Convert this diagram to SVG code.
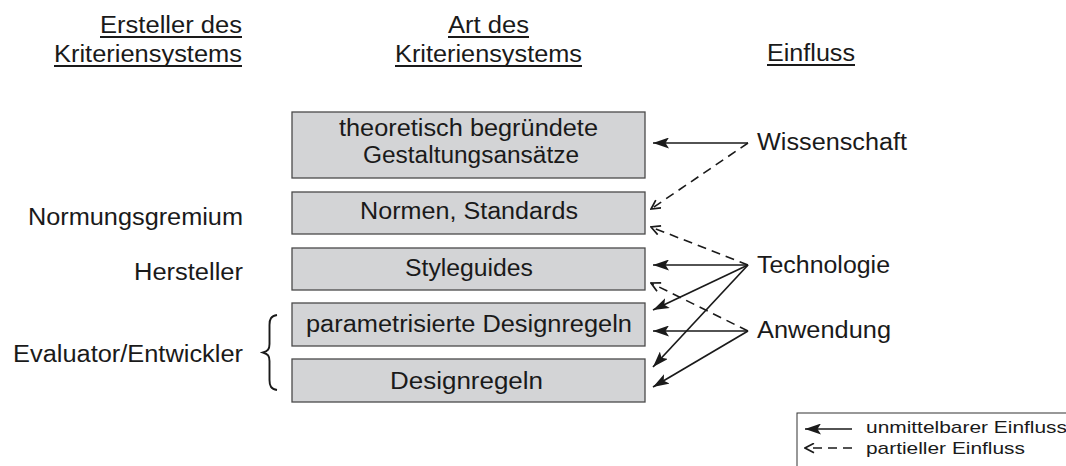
<svg xmlns="http://www.w3.org/2000/svg" width="1066" height="466" viewBox="0 0 1066 466">
  <style>
    text { font-family: "Liberation Sans", Arial, Helvetica, sans-serif; font-size: 23.5px; fill: #1a1a1a; }
    .legend { font-size: 17px; }
    .box { fill: #d3d4d6; stroke: #4a4a4a; stroke-width: 1.3; }
    .ul { stroke: #1a1a1a; stroke-width: 2; }
    .solid { fill: none; stroke: #1a1a1a; stroke-width: 1.7; marker-end: url(#head); }
    .dashed { fill: none; stroke: #1a1a1a; stroke-width: 1.6; stroke-dasharray: 9 6; marker-end: url(#openhead); }
  </style>
  <defs>
    <marker id="head" viewBox="0 0 16 11" refX="16" refY="5.5" markerWidth="16" markerHeight="11" markerUnits="userSpaceOnUse" orient="auto">
      <path d="M0,0 L16,5.5 L0,11 L3.5,5.5 Z" fill="#1a1a1a"/>
    </marker>
    <marker id="openhead" viewBox="0 0 11 11" refX="10" refY="5.5" markerWidth="11" markerHeight="11" markerUnits="userSpaceOnUse" orient="auto">
      <path d="M1,0.8 L10,5.5 L1,10.2" fill="none" stroke="#1a1a1a" stroke-width="1.7"/>
    </marker>
  </defs>
  <rect width="1066" height="466" fill="#ffffff"/>

  <!-- column headings -->
  <g id="heading-ersteller">
    <text x="100" y="33" textLength="142" lengthAdjust="spacingAndGlyphs">Ersteller des</text>
    <line class="ul" x1="100" y1="37" x2="242" y2="37"/>
    <text x="54" y="62" textLength="188" lengthAdjust="spacingAndGlyphs">Kriteriensystems</text>
    <line class="ul" x1="54" y1="66" x2="242" y2="66"/>
  </g>
  <g id="heading-art">
    <text x="448" y="33" textLength="81" lengthAdjust="spacingAndGlyphs">Art des</text>
    <line class="ul" x1="448" y1="37" x2="529" y2="37"/>
    <text x="395" y="62" textLength="187" lengthAdjust="spacingAndGlyphs">Kriteriensystems</text>
    <line class="ul" x1="395" y1="66" x2="582" y2="66"/>
  </g>
  <g id="heading-einfluss">
    <text x="767" y="61" textLength="88" lengthAdjust="spacingAndGlyphs">Einfluss</text>
    <line class="ul" x1="767" y1="65" x2="855" y2="65"/>
  </g>

  <!-- criteria systems -->
  <g id="node-gestaltungsansaetze">
    <rect class="box" x="292" y="112" width="353" height="66"/>
    <text x="339" y="136" textLength="259" lengthAdjust="spacingAndGlyphs">theoretisch begründete</text>
    <text x="363" y="163" textLength="216" lengthAdjust="spacingAndGlyphs">Gestaltungsansätze</text>
  </g>
  <g id="node-normen">
    <rect class="box" x="292" y="192" width="353" height="42"/>
    <text x="360" y="219" textLength="218" lengthAdjust="spacingAndGlyphs">Normen, Standards</text>
  </g>
  <g id="node-styleguides">
    <rect class="box" x="292" y="248" width="353" height="42"/>
    <text x="405" y="276" textLength="128" lengthAdjust="spacingAndGlyphs">Styleguides</text>
  </g>
  <g id="node-param-designregeln">
    <rect class="box" x="292" y="303" width="353" height="43"/>
    <text x="306" y="332" textLength="326" lengthAdjust="spacingAndGlyphs">parametrisierte Designregeln</text>
  </g>
  <g id="node-designregeln">
    <rect class="box" x="292" y="359" width="353" height="43"/>
    <text x="390" y="389" textLength="153" lengthAdjust="spacingAndGlyphs">Designregeln</text>
  </g>

  <!-- creators -->
  <g id="node-normungsgremium">
    <text x="28" y="225" textLength="215" lengthAdjust="spacingAndGlyphs">Normungsgremium</text>
  </g>
  <g id="node-hersteller">
    <text x="134" y="280" textLength="109" lengthAdjust="spacingAndGlyphs">Hersteller</text>
  </g>
  <g id="node-evaluator">
    <text x="13" y="362" textLength="230" lengthAdjust="spacingAndGlyphs">Evaluator/Entwickler</text>
    <!-- curly brace grouping the two design-rule boxes -->
    <path d="M277,315 C271,316 269.5,319 269.5,325 L269.5,344 C269.5,349 268,351 263,352.5 C268,354 269.5,356 269.5,361 L269.5,380 C269.5,386 271,389 277,390" fill="none" stroke="#1a1a1a" stroke-width="1.9"/>
  </g>

  <!-- influences -->
  <g id="node-wissenschaft">
    <text x="757" y="150" textLength="150" lengthAdjust="spacingAndGlyphs">Wissenschaft</text>
  </g>
  <g id="node-technologie">
    <text x="757" y="273" textLength="133" lengthAdjust="spacingAndGlyphs">Technologie</text>
  </g>
  <g id="node-anwendung">
    <text x="757" y="338" textLength="134" lengthAdjust="spacingAndGlyphs">Anwendung</text>
  </g>

  <!-- connectors -->
  <g id="connectors">
    <line class="solid" x1="748" y1="143" x2="653" y2="143"/>
    <line class="dashed" x1="748" y1="143" x2="651" y2="209"/>
    <line class="dashed" x1="748" y1="265" x2="651" y2="227"/>
    <line class="solid" x1="748" y1="265" x2="653" y2="265"/>
    <line class="solid" x1="748" y1="265" x2="653" y2="310"/>
    <line class="solid" x1="748" y1="265" x2="653" y2="367"/>
    <line class="dashed" x1="748" y1="331" x2="651" y2="283"/>
    <line class="solid" x1="748" y1="331" x2="653" y2="331"/>
    <line class="solid" x1="748" y1="331" x2="653" y2="387"/>
  </g>

  <!-- legend -->
  <g id="legend">
    <rect x="797" y="413" width="300" height="80" fill="none" stroke="#333333" stroke-width="1"/>
    <line class="solid" x1="852" y1="429" x2="805" y2="429"/>
    <text class="legend" x="866" y="433" textLength="201" lengthAdjust="spacingAndGlyphs">unmittelbarer Einfluss</text>
    <line class="dashed" x1="852" y1="448" x2="805" y2="448" stroke-dasharray="8 5"/>
    <text class="legend" x="866" y="454" textLength="159" lengthAdjust="spacingAndGlyphs">partieller Einfluss</text>
  </g>
</svg>
